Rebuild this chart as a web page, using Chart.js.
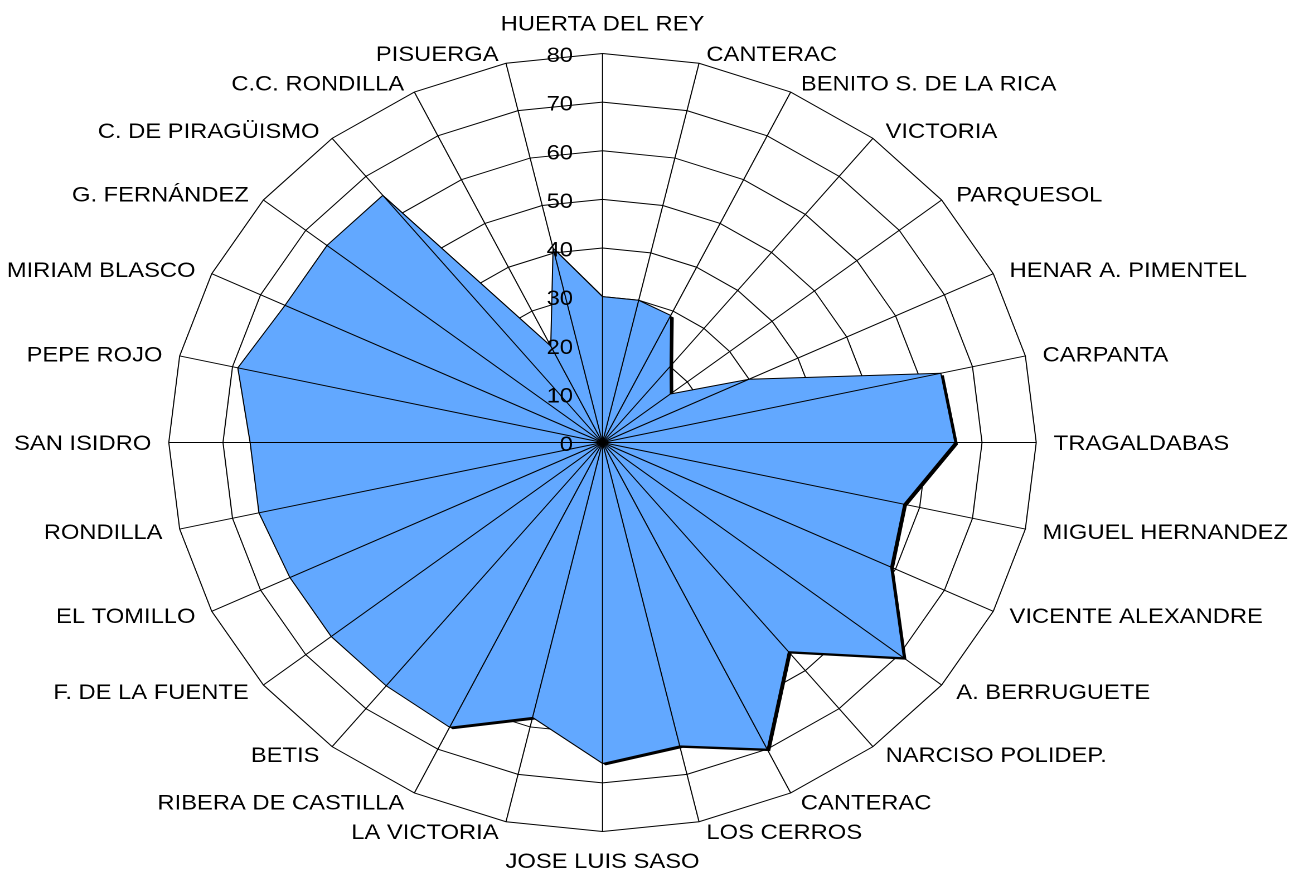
<!DOCTYPE html>
<html>
<head>
<meta charset="utf-8">
<script src="https://cdn.jsdelivr.net/npm/chart.js@4/dist/chart.umd.min.js"></script>
<style>
  html, body { margin: 0; padding: 0; background: #fff; overflow: hidden; }
  /* the original chart is stretched sideways, so the canvas is too */
  #wrap { width: 1157px; height: 873px; transform: scaleX(1.115); transform-origin: 0 0; }
</style>
</head>
<body>
<div id="wrap"><canvas id="radar"></canvas></div>
<script>
const centros = [
  "HUERTA DEL REY", "CANTERAC", "BENITO S. DE LA RICA", "VICTORIA", "PARQUESOL",
  "HENAR A. PIMENTEL", "CARPANTA", "TRAGALDABAS", "MIGUEL HERNANDEZ", "VICENTE ALEXANDRE",
  "A. BERRUGUETE", "NARCISO POLIDEP.", "CANTERAC", "LOS CERROS", "JOSE LUIS SASO",
  "LA VICTORIA", "RIBERA DE CASTILLA", "BETIS", "F. DE LA FUENTE", "EL TOMILLO",
  "RONDILLA", "SAN ISIDRO", "PEPE ROJO", "MIRIAM BLASCO", "G. FERNÁNDEZ",
  "C. DE PIRAGÜISMO", "C.C. RONDILLA", "PISUERGA"
];
const valores = [
  30, 30, 29, 20, 16,
  30, 64, 65, 57, 59,
  71, 55, 70, 64, 66,
  58, 65, 64, 64, 64,
  65, 65, 69, 65, 65,
  65, 22, 41
];
const rTicks = [0, 10, 20, 30, 40, 50, 60, 70, 80];

const SX = 1.115;
const FONT = '21.3px "Liberation Sans", Arial, sans-serif';
const HALF_CAP = 7.6;

// fixed centre and radius, like the Excel original
function placeScale(scale) {
  scale.xCenter = 602.5 / SX;
  scale.yCenter = 442.5;
  scale.drawingArea = 389;
}

// black drop shadow under the filled area (offset right/down)
const shadowPlugin = {
  id: "shadow",
  beforeDatasetsDraw(chart) {
    const pts = chart.getDatasetMeta(0).data;
    const ctx = chart.ctx;
    ctx.save();
    ctx.fillStyle = "#000";
    ctx.beginPath();
    pts.forEach((p, i) => {
      if (i === 0) ctx.moveTo(p.x + 2.7, p.y + 2);
      else ctx.lineTo(p.x + 2.7, p.y + 2);
    });
    ctx.closePath();
    ctx.fill();
    ctx.restore();
  }
};

// category names round the outside and the value labels on the top spoke
const labelPlugin = {
  id: "labels",
  afterDraw(chart) {
    const scale = chart.scales.r;
    const ctx = chart.ctx;
    ctx.save();
    ctx.font = FONT;
    ctx.fillStyle = "#000";
    ctx.textBaseline = "alphabetic";

    chart.data.labels.forEach((label, i) => {
      const a = scale.getIndexAngle(i);
      const s = Math.sin(a), c = Math.cos(a);
      const p = scale.getPointPosition(i, scale.drawingArea);
      let x = p.x, y;
      if (Math.abs(s) < 0.01) {
        ctx.textAlign = "center";
        y = c > 0 ? p.y - 30.5 : p.y + 29;
      } else {
        ctx.textAlign = s > 0 ? "left" : "right";
        x += Math.sign(s) * (13 * Math.abs(s) + 4.5) / SX;
        y = p.y - c * 10;
      }
      ctx.fillText(label, x, y + HALF_CAP);
    });

    ctx.textAlign = "right";
    scale.ticks.forEach((t) => {
      const d = scale.getDistanceFromCenterForValue(t.value);
      ctx.fillText(String(t.value), scale.xCenter - 29.5 / SX, scale.yCenter - d + 1 + HALF_CAP);
    });
    ctx.restore();
  }
};

new Chart(document.getElementById("radar"), {
  type: "radar",
  data: {
    labels: centros,
    datasets: [{
      data: valores,
      backgroundColor: "rgb(98,168,255)",
      borderColor: "#000",
      borderWidth: 1,
      pointRadius: 0,
      fill: true,
      tension: 0
    }]
  },
  options: {
    responsive: true,
    maintainAspectRatio: false,
    devicePixelRatio: 2,
    animation: false,
    plugins: { legend: { display: false }, tooltip: { enabled: false } },
    scales: {
      r: {
        min: rTicks[0],
        max: rTicks[rTicks.length - 1],
        ticks: { stepSize: rTicks[1] - rTicks[0], display: false },
        grid: { color: "#000", lineWidth: 1, circular: false },
        angleLines: { display: false },
        pointLabels: { display: false },
        afterFit: placeScale
      },
      // second radial scale only for the spokes; grid layer z > 0 puts it above the fill
      spokes: {
        type: "radialLinear",
        axis: "r",
        min: rTicks[0],
        max: rTicks[rTicks.length - 1],
        ticks: { stepSize: rTicks[1] - rTicks[0], display: false },
        grid: { display: false, z: 1 },
        angleLines: { display: true, color: "#000", lineWidth: 1 },
        pointLabels: { display: false },
        afterFit: placeScale
      }
    }
  },
  plugins: [shadowPlugin, labelPlugin]
});
</script>
</body>
</html>
